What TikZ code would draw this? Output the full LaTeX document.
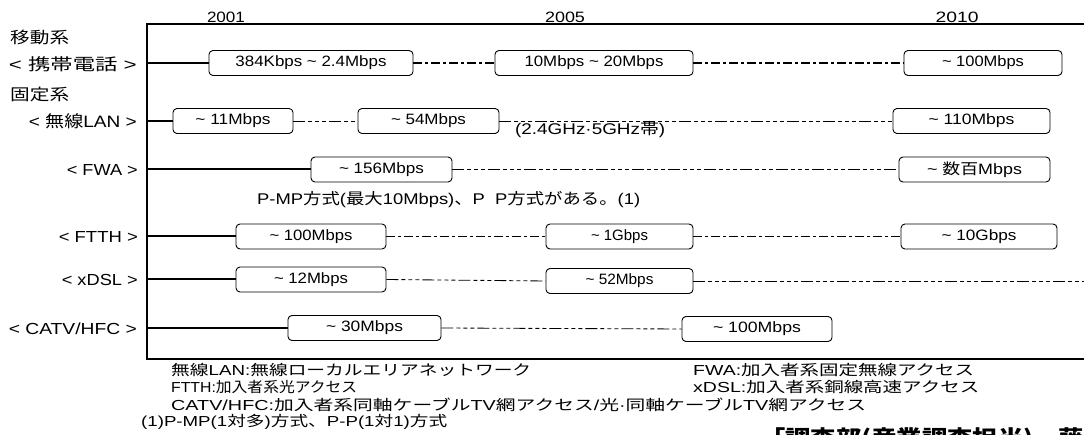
\documentclass[tikz,border=0pt]{standalone}
\usepackage{fontspec}
\setmainfont{Liberation Sans}
\newfontfamily\jpfont{Noto Sans CJK JP}
\newcommand\J[1]{{\jpfont #1}}
\newsavebox\fbx
\newcommand\fw[3]{\sbox\fbx{\fontsize{#2}{#2}\selectfont #3}\resizebox{#1pt}{\ht\fbx}{\usebox\fbx}}
\newcommand\ti{\textasciitilde}
\begin{document}
\begin{tikzpicture}[x=1pt,y=-1pt,
  bx/.style={draw, rounded corners=4pt, line width=0.9pt, minimum height=25pt, inner sep=0pt},
  axis/.style={line width=2.2pt},
  feed/.style={line width=2pt},
  dd/.style={line width=1.9pt, dash pattern=on 9pt off 3pt on 3pt off 3pt},
  thn/.style={line width=0.85pt, dash pattern=on 12pt off 3pt on 4pt off 3pt on 4pt off 3pt on 4pt off 3pt},
  txt/.style={inner sep=0pt}]
\useasboundingbox (0,0) rectangle (1084,435);
\clip (0,0) rectangle (1084,435);

% axes
\coordinate (tl) at (147,24);
\coordinate (tr) at (1084,24);
\coordinate (bl) at (147,359);
\coordinate (br) at (1084,359);
\draw[axis] (tr) -- (tl) -- (bl) -- (br);

% years
\node[txt, anchor=base] (y1) at (226,23) {\fw{38}{15}{2001}};
\node[txt, anchor=base] (y2) at (565,23) {\fw{40}{15}{2005}};
\node[txt, anchor=base] (y3) at (957,23) {\fw{43}{15}{2010}};

% left labels
\node[txt, anchor=west] (g1) at (10,37) {\fw{59}{16}{\J{移動系}}};
\node[txt, anchor=west] (g2) at (10,94) {\fw{59}{16}{\J{固定系}}};
\node[txt, anchor=east] (l1) at (137,64) {\fw{128}{16.5}{< \J{携帯電話} >}};
\node[txt, anchor=east] (l2) at (137,121) {\fw{108}{16.5}{< \J{無線}LAN >}};
\node[txt, anchor=east] (l3) at (138,170) {\fw{71}{16}{< FWA >}};
\node[txt, anchor=east] (l4) at (138,237) {\fw{79}{16}{< FTTH >}};
\node[txt, anchor=east] (l5) at (138,280) {\fw{76}{16}{< xDSL >}};
\node[txt, anchor=east] (l6) at (137,329) {\fw{128}{16}{< CATV/HFC >}};

% row start points
\coordinate (r1) at (147,63);
\coordinate (r2) at (147,121);
\coordinate (r3) at (147,169.5);
\coordinate (r4) at (147,236.5);
\coordinate (r5) at (147,279.5);
\coordinate (r6) at (147,328);

% row 1: mobile
\node[bx, minimum width=204pt] (b11) at (311,63) {\fw{151}{15}{384Kbps \ti\ 2.4Mbps}};
\node[bx, minimum width=198pt] (b12) at (594,63) {\fw{139}{15}{10Mbps \ti\ 20Mbps}};
\node[bx, minimum width=158pt] (b13) at (983,63) {\fw{82}{15}{\ti\ 100Mbps}};
\draw[feed] (r1) -- (b11.west);
\draw[dd] (b11.east) -- (b12.west);
\draw[dd] (b12.east) -- (b13.west);

% row 2: wireless LAN
\node[bx, minimum width=120pt] (b21) at (233,121) {\fw{75}{15}{\ti\ 11Mbps}};
\node[bx, minimum width=141pt] (b22) at (428.5,121) {\fw{75}{15}{\ti\ 54Mbps}};
\node[bx, minimum width=157pt] (b23) at (971.5,121) {\fw{86}{15}{\ti\ 110Mbps}};
\draw[feed] (r2) -- (b21.west);
\draw[thn] (b21.east) -- (b22.west);
\draw[thn] (b22.east) -- (b23.west);
\node[txt, anchor=west] (n2) at (515,130) {\fw{150}{15.5}{(2.4GHz\textperiodcentered 5GHz\J{帯})}};

% row 3: FWA
\node[bx, minimum width=141pt] (b31) at (381.5,169.5) {\fw{85}{15}{\ti\ 156Mbps}};
\node[bx, minimum width=151pt] (b32) at (974.5,169.5) {\fw{95}{15}{\ti\ \J{数百}Mbps}};
\draw[feed] (r3) -- (b31.west);
\draw[thn] (b31.east) -- (b32.west);
\node[txt, anchor=west] (n3) at (257,200) {\fw{383}{15.5}{P-MP\J{方式}(\J{最大}10Mbps)\J{、}P\ \ P\J{方式がある。}(1)}};

% row 4: FTTH
\node[bx, minimum width=150pt] (b41) at (311,236.5) {\fw{83}{15}{\ti\ 100Mbps}};
\node[bx, minimum width=147pt] (b42) at (619.5,236.5) {\fw{57}{15}{\ti\ 1Gbps}};
\node[bx, minimum width=156pt] (b43) at (979,236.5) {\fw{75}{15}{\ti\ 10Gbps}};
\draw[feed] (r4) -- (b41.west);
\draw[dd] (b41.east) -- (b42.west);
\draw[dd] (b42.east) -- (b43.west);

% row 5: xDSL
\node[bx, minimum width=150pt] (b51) at (311,279.5) {\fw{74}{15}{\ti\ 12Mbps}};
\node[bx, minimum width=147pt] (b52) at (619.5,281) {\fw{68}{15}{\ti\ 52Mbps}};
\coordinate (e5) at (1084,281);
\draw[feed] (r5) -- (b51.west);
\draw[thn] (b51.east) -- (b52.west);
\draw[thn] (b52.east) -- (e5);

% row 6: CATV/HFC
\node[bx, minimum width=153pt] (b61) at (364.5,328) {\fw{77}{15}{\ti\ 30Mbps}};
\node[bx, minimum width=150pt] (b62) at (757,329) {\fw{88}{15}{\ti\ 100Mbps}};
\draw[feed] (r6) -- (b61.west);
\draw[thn] (b61.east) -- (b62.west);

% legend
\node[txt, anchor=west] (k1) at (171,370) {\fw{360}{14.5}{\J{無線}LAN:\J{無線ローカルエリアネットワーク}}};
\node[txt, anchor=west] (k2) at (171,387) {\fw{186}{14.5}{FTTH:\J{加入者系光アクセス}}};
\node[txt, anchor=west] (k3) at (171,404.5) {\fw{695}{14.5}{CATV/HFC:\J{加入者系同軸ケーブル}TV\J{網アクセス}/\J{光}\textperiodcentered\J{同軸ケーブル}TV\J{網アクセス}}};
\node[txt, anchor=west] (k4) at (141,421.5) {\fw{306}{14.5}{(1)P-MP(1\J{対多})\J{方式、}P-P(1\J{対}1)\J{方式}}};
\node[txt, anchor=west] (k5) at (693,370) {\fw{281}{14.5}{FWA:\J{加入者系固定無線アクセス}}};
\node[txt, anchor=west] (k6) at (693,387) {\fw{286}{14.5}{xDSL:\J{加入者系銅線高速アクセス}}};

% cut-off credit line
\node[txt, anchor=north west] (cr) at (760,427.5) {\scalebox{1.15}[1]{\fontsize{22}{22}\selectfont\bfseries\J{「調査部(産業調査担当)、藤}}};
\end{tikzpicture}
\end{document}
